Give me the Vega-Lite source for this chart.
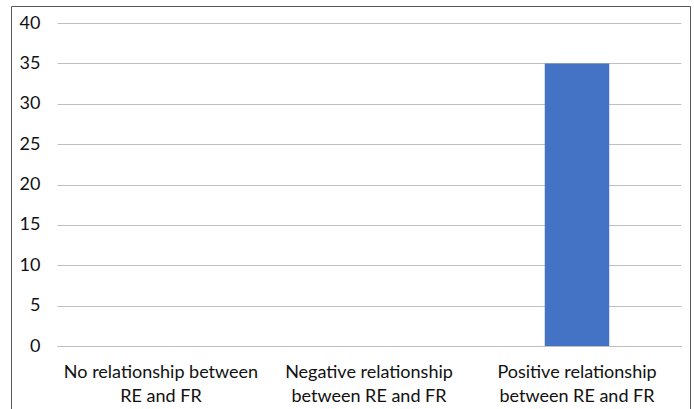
{
  "$schema": "https://vega.github.io/schema/vega-lite/v6.json",
  "width": 679,
  "height": 403,
  "autosize": "none",
  "padding": {"left": 11, "top": 6, "right": 4, "bottom": 0},
  "background": "white",
  "config": {
    "view": {"stroke": "#595959", "strokeWidth": 1},
    "font": "Lato"
  },
  "data": {
    "values": [
      {"category": "No relationship between RE and FR", "count": 0},
      {"category": "Negative relationship between RE and FR", "count": 0},
      {"category": "Positive relationship between RE and FR", "count": 35}
    ]
  },
  "mark": {"type": "bar", "color": "#4472c4"},
  "encoding": {
    "x": {
      "field": "category",
      "type": "nominal",
      "sort": null,
      "scale": {"range": [46, 670], "paddingInner": 0.69, "paddingOuter": 0.345},
      "axis": {
        "title": null,
        "orient": "bottom",
        "offset": -63,
        "domain": true,
        "domainColor": "#bfbfbf",
        "domainWidth": 1,
        "ticks": false,
        "tickSize": 0,
        "labelAngle": 0,
        "labelPadding": 17,
        "labelBaseline": "top",
        "labelFontSize": 18,
        "labelColor": "#111111",
        "labelLineHeight": 24,
        "labelLimit": 300,
        "labelExpr": "{'No relationship between RE and FR': ['No relationship between', 'RE and FR'], 'Negative relationship between RE and FR': ['Negative relationship', 'between RE and FR'], 'Positive relationship between RE and FR': ['Positive relationship', 'between RE and FR']}[datum.label]"
      }
    },
    "y": {
      "field": "count",
      "type": "quantitative",
      "scale": {"domain": [0, 40], "range": [340, 17], "nice": false},
      "axis": {
        "title": null,
        "offset": -46,
        "values": [0, 5, 10, 15, 20, 25, 30, 35, 40],
        "domain": false,
        "ticks": false,
        "tickSize": 0,
        "labelPadding": 17,
        "labelFontSize": 18,
        "labelColor": "#111111",
        "grid": true,
        "gridColor": "#c0c0c0",
        "gridWidth": 1
      }
    }
  }
}
